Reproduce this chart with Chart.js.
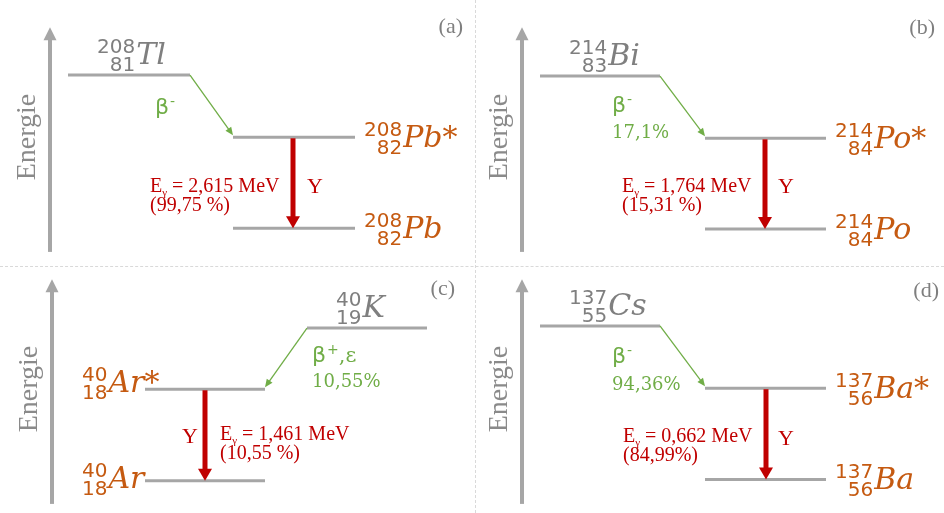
<!DOCTYPE html>
<html lang="fr">
<head>
<meta charset="UTF-8">
<title>Schémas de désintégration</title>
<script src="https://cdn.jsdelivr.net/npm/chart.js"></script>
<style>
  body { margin:0; background:#fff; overflow:hidden; }
  #wrap { position:relative; width:944px; height:513px; overflow:hidden; }
  #wrap canvas { position:absolute; }
  .vline { position:absolute; left:475px; top:0; height:513px; border-left:1px dashed #d9d9d9; }
  .hline { position:absolute; left:0; top:266px; width:944px; border-top:1px dashed #d9d9d9; }
</style>
</head>
<body>
<div id="wrap">
  <div class="vline"></div>
  <div class="hline"></div>
  <canvas id="pa" width="472" height="266" style="left:0;top:0"></canvas>
  <canvas id="pb" width="472" height="266" style="left:472px;top:0"></canvas>
  <canvas id="pc" width="472" height="266" style="left:0;top:252px"></canvas>
  <canvas id="pd" width="472" height="266" style="left:472px;top:252px"></canvas>
</div>
<script>
// données des quatre schémas (énergies en unités arbitraires)
const panelTags = ['(a)', '(b)', '(c)', '(d)'];
const parentSym = ['Tl', 'Bi', 'K', 'Cs'];
const parentA = ['208', '214', '40', '137'];
const parentZ = ['81', '83', '19', '55'];
const daughterSym = ['Pb', 'Po', 'Ar', 'Ba'];
const daughterA = ['208', '214', '40', '137'];
const daughterZ = ['82', '84', '18', '56'];
const parentLevel = [7.18, 7.14, 7.14, 7.22];
const excitedLevel = [4.84, 4.80, 4.84, 4.88];
const groundLevel = [1.42, 1.39, 1.40, 1.45];
const decaySign = ['-', '-', '+', '-'];
const decayExtra = ['', '', ',ε', ''];
const branching = ['', '17,1%', '10,55%', '94,36%'];
const gammaEnergy = ['2,615', '1,764', '1,461', '0,662'];
const gammaIntensity = ['(99,75 %)', '(15,31 %)', '(10,55 %)', '(84,99%)'];

// mise en page de chaque panneau (pixels du canvas)
const layout = [
  { id:'pa', axisX:50, parentX:[68,190], daughterX:[233,355], side:'right', tag:[463,33], beta:[155,114,138], gammaX:293, eg:[150,192], ups:[307,193] },
  { id:'pb', axisX:50, parentX:[68,188], daughterX:[233,354], side:'right', tag:[463,34], beta:[140,112,138], gammaX:293, eg:[150,192], ups:[306,193] },
  { id:'pc', axisX:52, parentX:[307,427], daughterX:[145,265], side:'left', tag:[455,43], beta:[312,110,135], gammaX:205, eg:[220,188], ups:[182,191] },
  { id:'pd', axisX:50, parentX:[68,188], daughterX:[233,354], side:'right', tag:[467,45], beta:[140,111,138], gammaX:294, eg:[151,190], ups:[306,193] }
];
const axisRange = [0.53, 8.98];

const GRAY = '#a6a6a6', TXT = '#7f7f7f', ORANGE = '#c55a11', RED = '#c00000', GREEN = '#70ad47';

function nuclide(ctx, x, base, A, Z, sym, color) {
  ctx.fillStyle = color;
  ctx.textAlign = 'right';
  ctx.font = '20px "DejaVu Sans"';
  const bw = Math.max(ctx.measureText(A).width, ctx.measureText(Z).width);
  ctx.fillText(A, x + bw, base - 11);
  ctx.fillText(Z, x + bw, base + 7);
  ctx.textAlign = 'left';
  ctx.font = 'italic 30px "DejaVu Serif"';
  ctx.fillText(sym, x + bw + 1, base);
}

function head(ctx, x, y, ang, len, half, color) {
  ctx.save();
  ctx.translate(x, y);
  ctx.rotate(ang);
  ctx.fillStyle = color;
  ctx.beginPath();
  ctx.moveTo(0, 0);
  ctx.lineTo(-len, -half);
  ctx.lineTo(-len, half);
  ctx.closePath();
  ctx.fill();
  ctx.restore();
}

const decayPlugin = {
  id: 'decay',
  afterDatasetsDraw(chart, args, opts) {
    const i = opts.index;
    const L = layout[i];
    const ctx = chart.ctx;
    const xs = chart.scales.x, ys = chart.scales.y;
    const pY = ys.getPixelForValue(parentLevel[i]);
    const eY = ys.getPixelForValue(excitedLevel[i]);
    const gY = ys.getPixelForValue(groundLevel[i]);
    ctx.save();

    // axe Energie
    const ax = xs.getPixelForValue(L.axisX);
    const a0 = ys.getPixelForValue(axisRange[0]), a1 = ys.getPixelForValue(axisRange[1]);
    ctx.strokeStyle = GRAY; ctx.lineWidth = 4; ctx.lineCap = 'butt';
    ctx.beginPath(); ctx.moveTo(ax, a0); ctx.lineTo(ax, a1 + 12); ctx.stroke();
    head(ctx, ax, a1, -Math.PI / 2, 13, 6.5, GRAY);
    ctx.save();
    ctx.translate(ax - 15, 137);
    ctx.rotate(-Math.PI / 2);
    ctx.fillStyle = '#8a8a8a';
    ctx.font = '28px "Liberation Serif"';
    ctx.textAlign = 'center';
    ctx.fillText('Energie', 0, 0);
    ctx.restore();

    // étiquette du panneau
    ctx.fillStyle = TXT;
    ctx.font = '22px "Liberation Serif"';
    ctx.textAlign = 'right';
    ctx.fillText(panelTags[i], L.tag[0], L.tag[1]);

    // flèche beta
    let bx0, bx1;
    if (L.side === 'right') { bx0 = xs.getPixelForValue(L.parentX[1]); bx1 = xs.getPixelForValue(L.daughterX[0]); }
    else { bx0 = xs.getPixelForValue(L.parentX[0]); bx1 = xs.getPixelForValue(L.daughterX[1]); }
    const by1 = eY - 2;
    const ang = Math.atan2(by1 - pY, bx1 - bx0);
    ctx.strokeStyle = GREEN; ctx.lineWidth = 1.3;
    ctx.beginPath(); ctx.moveTo(bx0, pY);
    ctx.lineTo(bx1 - 7 * Math.cos(ang), by1 - 7 * Math.sin(ang)); ctx.stroke();
    head(ctx, bx1, by1, ang, 8, 3.5, GREEN);
    ctx.fillStyle = GREEN;
    ctx.textAlign = 'left';
    let bx = L.beta[0];
    ctx.font = '22px "DejaVu Sans"';
    ctx.fillText('β', bx, L.beta[1]);
    bx += ctx.measureText('β').width + 1;
    ctx.font = '14px "DejaVu Sans"';
    ctx.fillText(decaySign[i], bx, L.beta[1] - 8);
    bx += ctx.measureText(decaySign[i]).width;
    ctx.font = '21px "DejaVu Serif"';
    ctx.fillText(decayExtra[i], bx, L.beta[1]);
    ctx.font = '18px "DejaVu Serif"';
    ctx.fillText(branching[i], L.beta[0], L.beta[2]);

    // flèche gamma
    const gx = xs.getPixelForValue(L.gammaX);
    ctx.strokeStyle = RED; ctx.lineWidth = 5;
    ctx.beginPath(); ctx.moveTo(gx, eY + 1); ctx.lineTo(gx, gY - 11); ctx.stroke();
    head(ctx, gx, gY, Math.PI / 2, 12, 7, RED);
    ctx.fillStyle = RED;
    ctx.font = '22px "Liberation Serif"';
    ctx.fillText('Υ', L.ups[0], L.ups[1]);
    let x = L.eg[0];
    ctx.font = '20px "Liberation Serif"';
    ctx.fillText('E', x, L.eg[1]);
    x += ctx.measureText('E').width;
    ctx.font = '11px "Liberation Serif"';
    ctx.fillText('γ', x, L.eg[1] + 4);
    x += ctx.measureText('γ').width;
    ctx.font = '20px "Liberation Serif"';
    ctx.fillText(' = ' + gammaEnergy[i] + ' MeV', x, L.eg[1]);
    ctx.fillText(gammaIntensity[i], L.eg[0], L.eg[1] + 19);

    // noyaux
    nuclide(ctx, xs.getPixelForValue(L.parentX[0]) + 29, pY - 11, parentA[i], parentZ[i], parentSym[i], TXT);
    if (L.side === 'right') {
      const dx = xs.getPixelForValue(L.daughterX[1]) + 9;
      nuclide(ctx, dx, eY + 10, daughterA[i], daughterZ[i], daughterSym[i] + '*', ORANGE);
      nuclide(ctx, dx, gY + 10, daughterA[i], daughterZ[i], daughterSym[i], ORANGE);
    } else {
      const dx = xs.getPixelForValue(L.daughterX[0]) - 63;
      nuclide(ctx, dx, eY + 3, daughterA[i], daughterZ[i], daughterSym[i] + '*', ORANGE);
      nuclide(ctx, dx, gY + 7, daughterA[i], daughterZ[i], daughterSym[i], ORANGE);
    }
    ctx.restore();
  }
};

function levelSet(x, e) {
  return { data: [{ x: x[0], y: e }, { x: x[1], y: e }], showLine: true, borderColor: GRAY, borderWidth: 3, pointRadius: 0 };
}

layout.forEach((L, i) => {
  new Chart(document.getElementById(L.id), {
    type: 'scatter',
    data: {
      datasets: [
        levelSet(L.parentX, parentLevel[i]),
        levelSet(L.daughterX, excitedLevel[i]),
        levelSet(L.daughterX, groundLevel[i])
      ]
    },
    options: {
      responsive: false,
      animation: false,
      layout: { padding: 0 },
      plugins: { legend: { display: false }, tooltip: { enabled: false }, decay: { index: i } },
      scales: {
        x: { type: 'linear', min: 0, max: 472, display: false },
        y: { type: 'linear', min: 0, max: 10, display: false }
      }
    },
    plugins: [decayPlugin]
  });
});
</script>
</body>
</html>
